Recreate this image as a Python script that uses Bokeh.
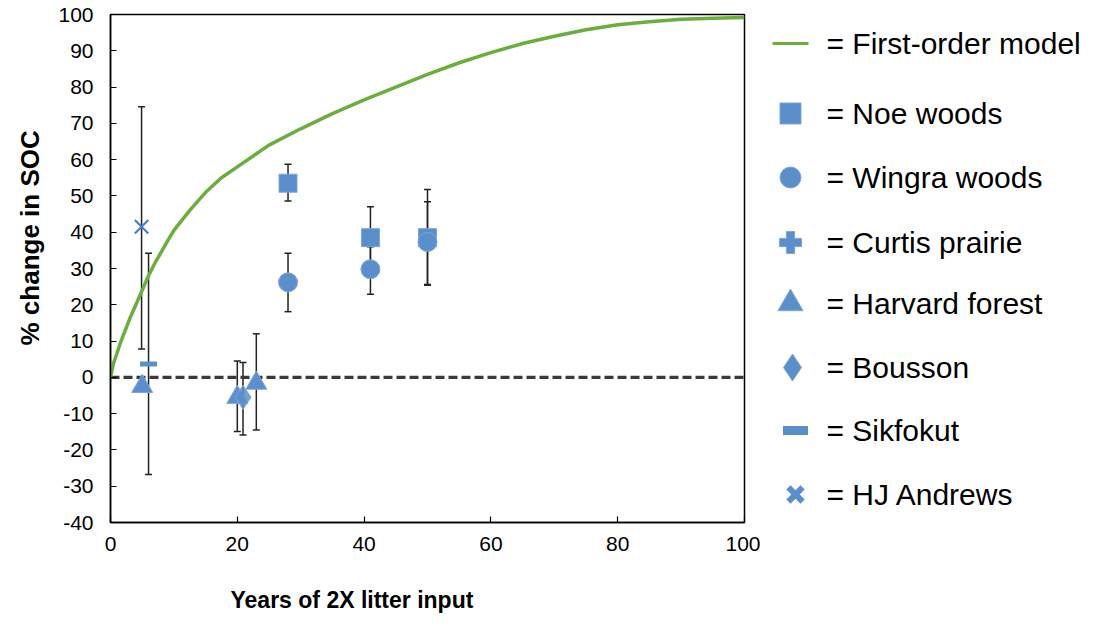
from bokeh.plotting import figure
from bokeh.layouts import row
from bokeh.models import Range1d, FixedTicker, Whisker, TeeHead, ColumnDataSource, Title
from bokeh.core.properties import value
from bokeh.embed import file_html
from bokeh.resources import INLINE

# ---------------- data ----------------
model_x = [0, 0.5, 1, 1.5, 2, 3, 4, 5, 6, 7, 8, 9, 10, 12.5, 15, 17.5, 20, 25, 30, 35, 40, 45,
           50, 55, 60, 65, 70, 75, 80, 85, 90, 95, 100]
model_y = [0, 4, 6.5, 9.2, 11.5, 16, 20, 24, 28, 31.5, 34.5, 37.6, 40.5, 46, 51, 55, 58, 64,
           68.5, 72.7, 76.5, 80, 83.5, 86.7, 89.5, 92, 94, 95.8, 97.2, 98, 98.7, 99, 99.2]

noe_x = [28, 41, 50]
noe_y = [53.5, 38.5, 38.5]
noe_lo = [48.6, 30.0, 25.4]
noe_hi = [58.7, 47.0, 51.8]

wingra_x = [28, 41, 50]
wingra_y = [26.2, 29.8, 37.3]
wingra_lo = [18.1, 22.9, 25.6]
wingra_hi = [34.2, 36.0, 48.4]

harvard_x = [5, 20, 23]
harvard_y = [-2.5, -5.5, -1.6]
harvard_lo = [None, -14.9, -14.5]
harvard_hi = [None, 4.5, 12.0]

bousson_x = [20.9]
bousson_y = [-5.5]
bousson_lo = [-15.9]
bousson_hi = [4.1]

sik_x = [6.0]
sik_y = [3.7]
sik_lo = [-26.8]
sik_hi = [34.2]

hj_x = [4.9]
hj_y = [41.5]
hj_lo = [7.8]
hj_hi = [74.6]

y_ticks = [-40, -30, -20, -10, 0, 10, 20, 30, 40, 50, 60, 70, 80, 90, 100]
x_ticks = [0, 20, 40, 60, 80, 100]

legend_labels = ["= First-order model", "= Noe woods", "= Wingra woods", "= Curtis prairie",
                 "= Harvard forest", "= Bousson", "= Sikfokut", "= HJ Andrews"]

# ---------------- styles ----------------
BLUE = "#5b8fcc"
BLUE_EDGE = "#7ea6d9"
GREEN = "#6aaf3c"
FONT = "Liberation Sans"

p = figure(width=760, height=620, output_backend="svg", toolbar_location=None,
           x_range=Range1d(0, 100), y_range=Range1d(-40, 100),
           min_border_left=110, min_border_right=16, min_border_top=14, min_border_bottom=98)
p.frame_width = 634
p.frame_height = 508
p.xgrid.visible = False
p.ygrid.visible = False
p.outline_line_color = "black"
p.outline_line_width = 1.5
p.background_fill_color = "white"
p.border_fill_color = "white"

p.yaxis.ticker = FixedTicker(ticks=y_ticks)
p.xaxis.ticker = FixedTicker(ticks=x_ticks)
p.yaxis.major_label_overrides = {t: str(t) for t in y_ticks}
p.xaxis.major_label_overrides = {t: str(t) for t in x_ticks}
for ax in (p.xaxis, p.yaxis):
    ax.axis_line_color = "black"
    ax.axis_line_width = 1.5
    ax.major_tick_in = 6
    ax.major_tick_out = 0
    ax.minor_tick_line_color = None
    ax.major_tick_line_color = "black"
    ax.major_tick_line_width = 1.2
    ax.major_label_text_font = FONT
    ax.major_label_text_color = "black"
p.yaxis.major_label_text_font_size = "21px"
p.yaxis.major_label_standoff = 17
p.xaxis.major_label_text_font_size = "21px"
p.xaxis.major_label_standoff = 14

# axis titles
p.add_layout(Title(text="Years of 2X litter input", align="left", offset=120,
                   text_font=FONT, text_font_size="23px", text_font_style="bold",
                   text_color="black", standoff=62), "below")
p.add_layout(Title(text="% change in SOC", align="left", offset=177,
                   text_font=FONT, text_font_size="26px", text_font_style="bold",
                   text_color="black", standoff=21), "left")

# zero line
p.line(x=[0, 100], y=[0, 0], line_color="#3a3a3a", line_width=3.2, line_dash="9 4")

# model
p.line(x=model_x, y=model_y, line_color=GREEN, line_width=3.5)

# error bars
ex, elo, ehi = [], [], []
for xs, los, his in [(noe_x, noe_lo, noe_hi), (wingra_x, wingra_lo, wingra_hi),
                     (harvard_x, harvard_lo, harvard_hi), (bousson_x, bousson_lo, bousson_hi),
                     (sik_x, sik_lo, sik_hi), (hj_x, hj_lo, hj_hi)]:
    for xv, lo, hi in zip(xs, los, his):
        if lo is None:
            continue
        ex.append(xv); elo.append(lo); ehi.append(hi)
esrc = ColumnDataSource(dict(x=ex, lo=elo, hi=ehi))
p.add_layout(Whisker(source=esrc, base="x", lower="lo", upper="hi",
                     line_color="#222222", line_width=1.5,
                     lower_head=TeeHead(size=7, line_color="#222222", line_width=1.5),
                     upper_head=TeeHead(size=7, line_color="#222222", line_width=1.5)))

# markers
p.scatter(noe_x, noe_y, marker="square", size=18, fill_color=BLUE, line_color=BLUE_EDGE)
p.scatter(wingra_x, wingra_y, marker="circle", size=19, fill_color=BLUE, line_color=BLUE_EDGE)
p.scatter(harvard_x, harvard_y, marker="triangle", size=21, fill_color=BLUE, line_color=BLUE_EDGE)
p.scatter(bousson_x, bousson_y, marker="diamond", size=24, fill_color=BLUE, line_color=BLUE_EDGE,
          fill_alpha=0.85)
p.scatter(sik_x, sik_y, marker="dash", size=17, line_color=BLUE, line_width=5)
p.scatter(hj_x, hj_y, marker="x", size=19, line_color="#4a7fc0", line_width=2.2)

# ---------------- legend panel (coordinates = page pixels) ----------------
q = figure(width=330, height=620, output_backend="svg", toolbar_location=None,
           x_range=Range1d(760, 1090), y_range=Range1d(522, 14),
           x_axis_type=None, y_axis_type=None,
           min_border_left=0, min_border_right=0, min_border_top=14, min_border_bottom=98)
q.frame_height = 508
q.xgrid.visible = False
q.ygrid.visible = False
q.outline_line_color = None
q.background_fill_color = "white"
q.border_fill_color = "white"

rows_y = [43, 113, 177, 242, 303, 367, 430, 494]
q.line(x=[772, 808], y=[rows_y[0], rows_y[0]], line_color=GREEN, line_width=3)
mk = ["square", "circle", "plus", "triangle", "diamond", "dash", "x"]
mx = [790, 790, 790, 790, 792, 795, 795]
msz = [21, 21, 22, 25, 27, 25, 20]
for m, xx, yy, s in zip(mk, mx, rows_y[1:], msz):
    if m == "dash":
        q.scatter([xx], [yy], marker=m, size=s, line_color=BLUE, line_width=9)
    elif m == "x":
        q.scatter([xx], [yy], marker=m, size=s, line_color=BLUE, line_width=6)
    else:
        q.scatter([xx], [yy], marker=m, size=s, fill_color=BLUE, line_color=BLUE_EDGE)
q.text(x=[826] * len(legend_labels), y=rows_y, text=legend_labels,
       text_font=value(FONT), text_font_size="30px", text_baseline="middle",
       text_color="black")

layout = row(p, q)
open("out.html", "w").write(file_html(layout, INLINE))
